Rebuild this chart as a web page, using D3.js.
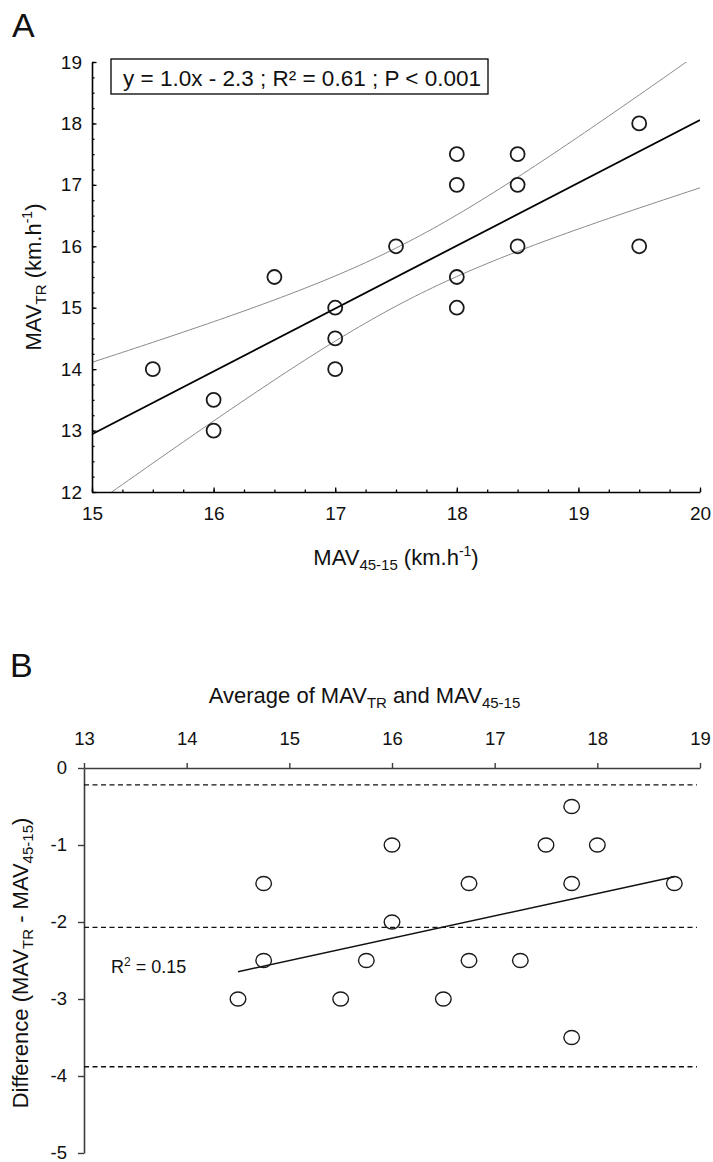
<!DOCTYPE html>
<html><head><meta charset="utf-8">
<script src="https://cdn.jsdelivr.net/npm/d3@7"></script>
<style>
body{margin:0;background:#fff}
svg{display:block}
text{font-family:"Liberation Sans",Arial,Helvetica,sans-serif;fill:#111}
</style>
</head><body>
<svg id="c" width="713" height="1162"></svg>
<script>
// ---- Panel A data (MAV 45-15 vs MAV TR, km/h) ----
const mav4515 = [15.5,16,16,16.5,17,17,17,17.5,18,18,18,18,18.5,18.5,18.5,19.5,19.5];
const mavTR   = [14,13.5,13,15.5,15,14.5,14,16,17.5,17,15.5,15,17.5,17,16,18,16];
const xTicksA = [15,16,17,18,19,20];
const yTicksA = [12,13,14,15,16,17,18,19];
const statsTextA = "y = 1.0x - 2.3 ; R\u00B2 = 0.61 ; P < 0.001";
const tCrit = 2.131; // t(0.975, df=15)

// ---- Panel B data (Bland-Altman) ----
const baAverage    = [14.75,14.75,14.5,16,16,15.75,15.5,16.75,17.75,17.5,16.75,16.5,18,17.75,17.25,18.75,17.75];
const baDifference = [-1.5,-2.5,-3,-1,-2,-2.5,-3,-1.5,-0.5,-1,-2.5,-3,-1,-1.5,-2.5,-1.5,-3.5];
const xTicksB = [13,14,15,16,17,18,19];
const yTicksB = [0,-1,-2,-3,-4,-5];
const baLimits = [-0.22,-2.07,-3.88];       // upper LoA, bias, lower LoA
const baFit = {slope:0.29, intercept:-6.85, from:14.5, to:18.75};
const baR2Text = "0.15";

const svg = d3.select("#c");
const fmt = d => String(d);

// ================= PANEL A =================
const xA = d3.scaleLinear().domain([15,20]).range([92,700]);
const yA = d3.scaleLinear().domain([12,19]).range([492,62]);

svg.append("text").attr("x",12).attr("y",37).attr("font-size",34).text("A");

svg.append("defs").append("clipPath").attr("id","clipA")
  .append("rect").attr("x",xA(15)).attr("y",yA(19)).attr("width",xA(20)-xA(15)).attr("height",yA(12)-yA(19));

// regression + 95% CI computed from data
const n = mav4515.length;
const mx = d3.mean(mav4515), my = d3.mean(mavTR);
let sxx=0, sxy=0;
for (let i=0;i<n;i++){ sxx += (mav4515[i]-mx)**2; sxy += (mav4515[i]-mx)*(mavTR[i]-my); }
const b1 = sxy/sxx, b0 = my - b1*mx;
let sse=0; for (let i=0;i<n;i++){ sse += (mavTR[i]-(b0+b1*mav4515[i]))**2; }
const s = Math.sqrt(sse/(n-2));
const xs = d3.range(15,20.0001,0.05);
const band = sgn => xs.map(x => [x, b0+b1*x + sgn*tCrit*s*Math.sqrt(1/n + (x-mx)**2/sxx)]);
const lineA = d3.line().x(d=>xA(d[0])).y(d=>yA(d[1]));
const gA = svg.append("g").attr("clip-path","url(#clipA)");
gA.append("path").attr("d",lineA(band(1))).attr("fill","none").attr("stroke","#8a8a8a").attr("stroke-width",1);
gA.append("path").attr("d",lineA(band(-1))).attr("fill","none").attr("stroke","#8a8a8a").attr("stroke-width",1);
gA.append("path").attr("d",lineA([[15,b0+b1*15],[20,b0+b1*20]])).attr("fill","none").attr("stroke","#000").attr("stroke-width",1.8);

// axes A
const minorX = d3.range(15,20.001,0.25), minorY = d3.range(12,19.001,0.25);
const axL = svg.append("g").attr("transform",`translate(${xA(15)},0)`)
  .call(d3.axisLeft(yA).tickValues(minorY).tickSize(-2.5).tickFormat(""));
axL.select(".domain").remove();
const axL2 = svg.append("g").attr("transform",`translate(${xA(15)},0)`)
  .call(d3.axisLeft(yA).tickValues(yTicksA).tickSize(-4.5).tickSizeOuter(0).tickPadding(10).tickFormat(fmt));
const axB = svg.append("g").attr("transform",`translate(0,${yA(12)})`)
  .call(d3.axisBottom(xA).tickValues(minorX).tickSize(-2.5).tickFormat(""));
axB.select(".domain").remove();
const axB2 = svg.append("g").attr("transform",`translate(0,${yA(12)})`)
  .call(d3.axisBottom(xA).tickValues(xTicksA).tickSize(-4.5).tickSizeOuter(0).tickPadding(15).tickFormat(fmt));
[axL,axL2,axB,axB2].forEach(g=>{
  g.selectAll("line").attr("stroke","#000").attr("stroke-width",1.3);
  g.selectAll(".domain").attr("stroke","#000").attr("stroke-width",1.6);
  g.selectAll("text").attr("font-size",19).attr("fill","#111").attr("font-family",'"Liberation Sans",Arial,sans-serif');
});

// points A
svg.append("g").selectAll("circle").data(mav4515).join("circle")
  .attr("cx",(d)=>xA(d)).attr("cy",(d,i)=>yA(mavTR[i])).attr("r",7)
  .attr("fill","none").attr("stroke","#1a1a1a").attr("stroke-width",1.8);

// stats box
svg.append("rect").attr("x",111).attr("y",59).attr("width",377).attr("height",35)
  .attr("fill","#fff").attr("stroke","#000").attr("stroke-width",1.3);
svg.append("text").attr("x",302).attr("y",85.5).attr("text-anchor","middle").attr("font-size",22.5).text(statsTextA);

// axis labels A
const xlabA = svg.append("text").attr("x",396).attr("y",565).attr("text-anchor","middle").attr("font-size",22);
xlabA.append("tspan").text("MAV");
xlabA.append("tspan").attr("font-size",15).attr("dy",5).text("45-15");
xlabA.append("tspan").attr("dy",-5).text(" (km.h");
xlabA.append("tspan").attr("font-size",14).attr("dy",-9).text("-1");
xlabA.append("tspan").attr("dy",9).text(")");

const ylabA = svg.append("text").attr("transform","translate(41,277) rotate(-90)").attr("text-anchor","middle").attr("font-size",22);
ylabA.append("tspan").text("MAV");
ylabA.append("tspan").attr("font-size",15).attr("dy",5).text("TR");
ylabA.append("tspan").attr("dy",-5).text(" (km.h");
ylabA.append("tspan").attr("font-size",14).attr("dy",-9).text("-1");
ylabA.append("tspan").attr("dy",9).text(")");

// ================= PANEL B =================
const xB = d3.scaleLinear().domain([13,19]).range([84,700]);
const yB = d3.scaleLinear().domain([-5,0]).range([1153,768]);
const axisCol = "#3c3c3c";

svg.append("text").attr("x",10).attr("y",677).attr("font-size",34).text("B");

const titleB = svg.append("text").attr("x",364.5).attr("y",703).attr("text-anchor","middle").attr("font-size",22);
titleB.append("tspan").text("Average of MAV");
titleB.append("tspan").attr("font-size",15).attr("dy",5).text("TR");
titleB.append("tspan").attr("dy",-5).text(" and MAV");
titleB.append("tspan").attr("font-size",15).attr("dy",5).text("45-15");

const axT = svg.append("g").attr("transform",`translate(0,${yB(0)})`)
  .call(d3.axisTop(xB).tickValues(xTicksB).tickSize(5).tickSizeOuter(0).tickPadding(18).tickFormat(fmt));
const axLB = svg.append("g").attr("transform",`translate(${xB(13)},0)`)
  .call(d3.axisLeft(yB).tickValues(yTicksB).tickSize(6).tickSizeOuter(0).tickPadding(11).tickFormat(fmt));
[axT,axLB].forEach(g=>{
  g.selectAll("line").attr("stroke",axisCol).attr("stroke-width",1.4);
  g.selectAll(".domain").attr("stroke",axisCol).attr("stroke-width",1.6);
  g.selectAll("text").attr("font-size",18.5).attr("fill","#111").attr("font-family",'"Liberation Sans",Arial,sans-serif');
});

// limits of agreement & bias
svg.append("g").selectAll("line").data(baLimits).join("line")
  .attr("x1",xB(13)).attr("x2",xB(18.97)).attr("y1",d=>yB(d)).attr("y2",d=>yB(d))
  .attr("stroke","#111").attr("stroke-width",1.3).attr("stroke-dasharray","5,3.5");

// trend line
svg.append("line")
  .attr("x1",xB(baFit.from)).attr("y1",yB(baFit.intercept+baFit.slope*baFit.from))
  .attr("x2",xB(baFit.to)).attr("y2",yB(baFit.intercept+baFit.slope*baFit.to))
  .attr("stroke","#111").attr("stroke-width",1.5);

// points B
svg.append("g").selectAll("ellipse").data(baAverage).join("ellipse")
  .attr("cx",d=>xB(d)).attr("cy",(d,i)=>yB(baDifference[i])).attr("rx",7.8).attr("ry",7)
  .attr("fill","none").attr("stroke","#1a1a1a").attr("stroke-width",1.4);

// R2 label
const r2 = svg.append("text").attr("x",111).attr("y",973).attr("font-size",18);
r2.append("tspan").text("R");
r2.append("tspan").attr("font-size",12).attr("dy",-7).text("2");
r2.append("tspan").attr("dy",7).text(" = " + baR2Text);

// y label B
const ylabB = svg.append("text").attr("transform","translate(28,963) rotate(-90)").attr("text-anchor","middle").attr("font-size",22);
ylabB.append("tspan").text("Difference (MAV");
ylabB.append("tspan").attr("font-size",15).attr("dy",5).text("TR");
ylabB.append("tspan").attr("dy",-5).text(" - MAV");
ylabB.append("tspan").attr("font-size",15).attr("dy",5).text("45-15");
ylabB.append("tspan").attr("dy",-5).text(")");
</script>
</body></html>
